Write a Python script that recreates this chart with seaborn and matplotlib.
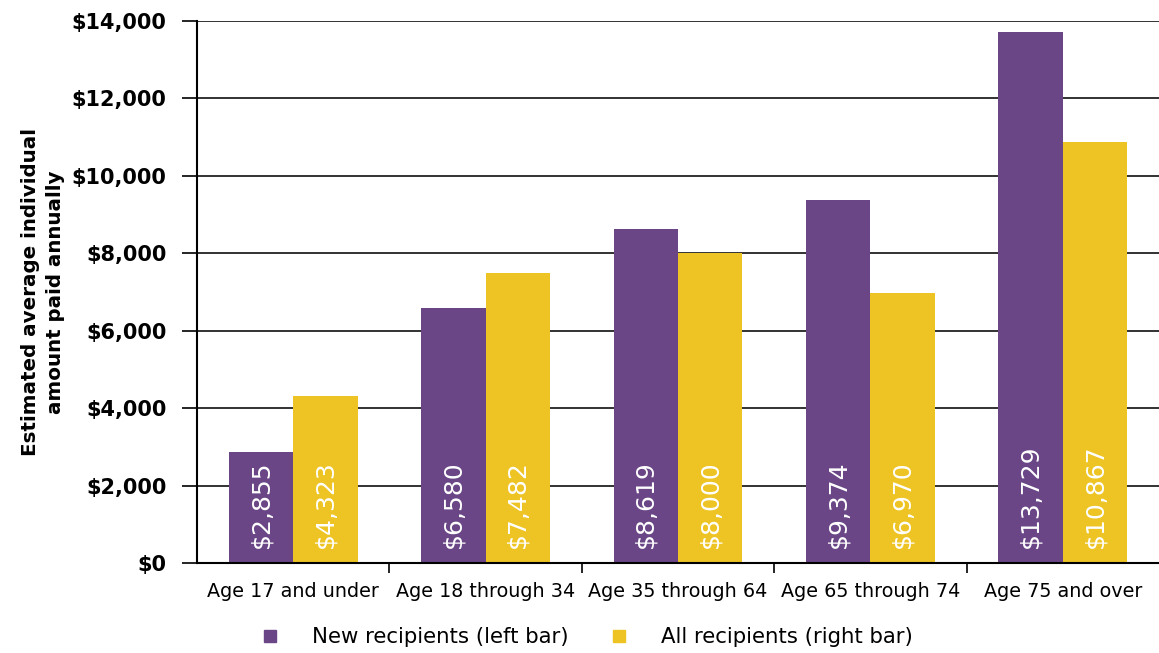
import matplotlib
matplotlib.use("Agg")
import matplotlib.pyplot as plt
import seaborn as sns
import pandas as pd
from matplotlib.lines import Line2D
from matplotlib.ticker import FuncFormatter, FixedLocator

categories = ["Age 17 and under", "Age 18 through 34", "Age 35 through 64",
              "Age 65 through 74", "Age 75 and over"]
new_recipients = [2855, 6580, 8619, 9374, 13729]
all_recipients = [4323, 7482, 8000, 6970, 10867]
series_names = ["New recipients (left bar)", "All recipients (right bar)"]
colors = ["#6A4686", "#EDC423"]

df = pd.DataFrame({
    "category": categories * 2,
    "value": new_recipients + all_recipients,
    "series": [series_names[0]] * 5 + [series_names[1]] * 5,
})

sns.set_theme(style="white")
plt.rcParams['font.family'] = ['DejaVu Sans']

fig = plt.figure(figsize=(11.59, 6.53), dpi=100)
ax = fig.add_axes([0.170, 0.1378, 0.830, 0.830])

sns.barplot(data=df, x="category", y="value", hue="series", order=categories,
            hue_order=series_names, palette=colors, width=0.67, gap=0,
            saturation=1, ax=ax, legend=False, linewidth=0)

ax.set_xlim(-0.5, 4.5)
ax.set_ylim(0, 14000)
ax.set_yticks(range(0, 14001, 2000))
ax.yaxis.set_major_formatter(FuncFormatter(lambda v, p: f"${int(v):,}"))
ax.tick_params(axis="y", labelsize=15, direction="out", length=11, width=1.2,
               color="black", left=True, pad=11, labelcolor="black")
for lab in ax.get_yticklabels():
    lab.set_fontweight("bold")
ax.yaxis.grid(True, color="#222222", linewidth=1.3)
ax.set_axisbelow(True)

# x ticks: labels at centers, tick marks at boundaries
ax.set_xticks(range(5))
ax.set_xticklabels(categories)
ax.tick_params(axis="x", which="major", length=0, labelsize=13.8, pad=14,
               labelcolor="black")
ax.xaxis.set_minor_locator(FixedLocator([0.5, 1.5, 2.5, 3.5]))
ax.tick_params(axis="x", which="minor", bottom=True, length=7, width=1.2,
               color="black", direction="out")

for s in ["top", "right"]:
    ax.spines[s].set_visible(False)
for s in ["left", "bottom"]:
    ax.spines[s].set_visible(True)
    ax.spines[s].set_color("black")
    ax.spines[s].set_linewidth(1.5)

ax.set_xlabel("")
ax.set_ylabel("Estimated average individual\namount paid annually",
              fontsize=14.3, fontweight="bold", color="black", labelpad=5,
              linespacing=1.4)

for cont in ax.containers:
    for bar in cont:
        h = bar.get_height()
        ax.annotate(f"${int(round(h)):,}",
                    xy=(bar.get_x() + bar.get_width() / 2, 0),
                    xytext=(0, 11), textcoords="offset points",
                    rotation=90, ha="center", va="bottom",
                    color="white", fontsize=18)

handles = [Line2D([0], [0], marker="s", linestyle="", markersize=9,
                  markerfacecolor=c, markeredgecolor=c) for c in colors]
leg = fig.legend(handles, series_names, loc="center",
                 bbox_to_anchor=(0.501, 0.0245), ncol=2, frameon=False,
                 fontsize=15.3, handletextpad=1.0, columnspacing=1.34)
for t in leg.get_texts():
    t.set_color("black")

fig.savefig("out.png", dpi=100)
